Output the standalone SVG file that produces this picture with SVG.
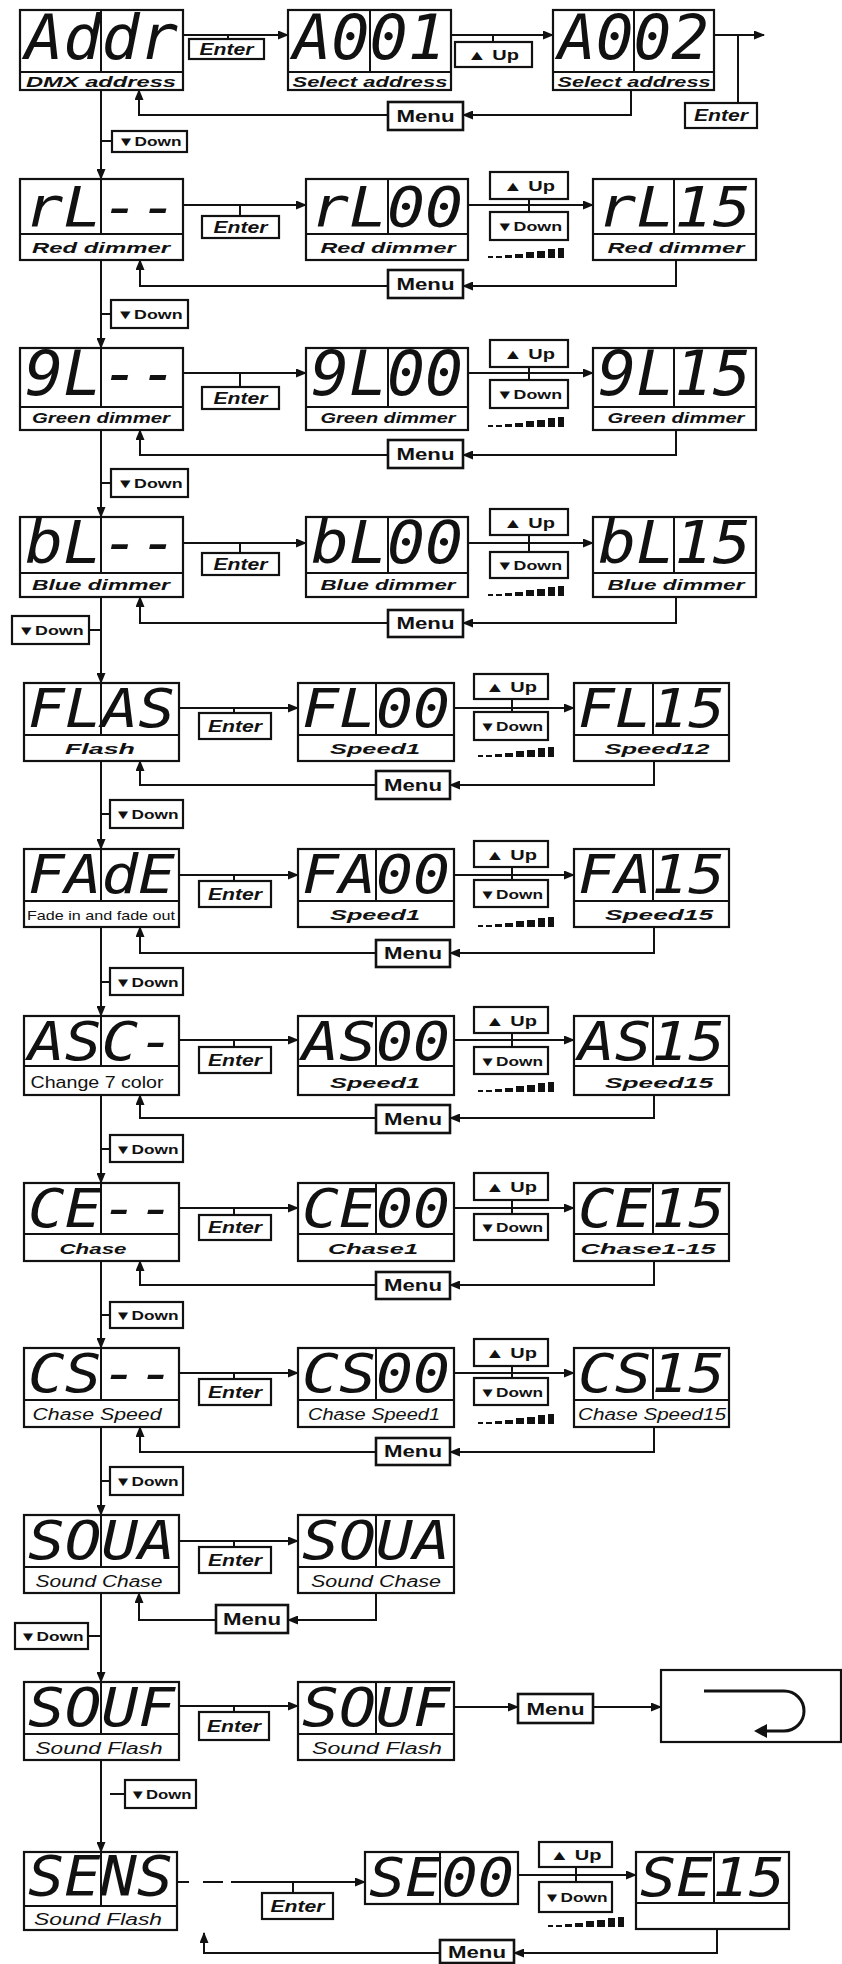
<svg xmlns="http://www.w3.org/2000/svg" width="842" height="1964" viewBox="0 0 842 1964">
<style>
.bg{fill:#fff}
.box{fill:#fff;stroke:#111;stroke-width:2.2}
.dv{stroke:#111;stroke-width:2}
.btn{fill:#fff;stroke:#111;stroke-width:2.2}
.mbtn{fill:#fff;stroke:#111;stroke-width:2.6}
.disp{font-family:"DejaVu Sans Mono","Liberation Mono",monospace;font-style:italic;fill:#111}
.lbl{font-family:"Liberation Sans",Arial,sans-serif;font-style:italic;font-weight:bold;fill:#111}
.lblu{font-family:"Liberation Sans Narrow","Liberation Sans",Arial,sans-serif;fill:#111}
.bt{font-family:"Liberation Sans",Arial,sans-serif;font-weight:bold;fill:#111;text-anchor:middle}
.ent{font-style:italic;font-size:16px}
.mn{font-size:17px}
.up{font-size:14px}
.dn{font-size:13px}
.ln{stroke:#111;stroke-width:2;fill:none}
.ar{stroke:#111;stroke-width:2;fill:none;marker-end:url(#ah)}
</style>
<defs>
<marker id="ah" markerUnits="userSpaceOnUse" markerWidth="11" markerHeight="9" refX="10" refY="4.5" orient="auto"><path d="M0,0 L11,4.5 L0,9 Z" fill="#111"/></marker>
<g id="ramp" fill="#111">
<rect x="0" y="-2" width="5" height="2"/><rect x="8" y="-2" width="6" height="2"/><rect x="17" y="-3" width="7" height="3"/><rect x="27" y="-4" width="8" height="4"/><rect x="38" y="-6" width="8" height="6"/><rect x="49" y="-7" width="8" height="7"/><rect x="60" y="-9" width="7" height="9"/><rect x="70" y="-10" width="6" height="10"/>
</g>
</defs>
<rect class="bg" x="0" y="0" width="842" height="1964"/>

<g id="connectors">
<!-- row 1 -->
<line class="ar" x1="183" y1="35" x2="288" y2="35"/><line class="ln" x1="228" y1="35" x2="228" y2="39"/>
<line class="ar" x1="451" y1="35" x2="553" y2="35"/><line class="ln" x1="493" y1="35" x2="493" y2="42"/>
<line class="ar" x1="714" y1="35" x2="764" y2="35"/><line class="ln" x1="738" y1="35" x2="738" y2="103"/>
<polyline class="ar" points="631,90 631,115 463,115"/><polyline class="ar" points="388,115 139,115 139,90"/>
<line class="ar" x1="101" y1="90" x2="101" y2="179"/><line class="ln" x1="101" y1="141" x2="112" y2="141"/>
<!-- row 2 -->
<line class="ar" x1="183" y1="205" x2="306" y2="205"/><line class="ln" x1="240" y1="205" x2="240" y2="216"/>
<line class="ar" x1="468" y1="205" x2="593" y2="205"/><line class="ln" x1="529" y1="199" x2="529" y2="212"/>
<polyline class="ar" points="676,260 676,286 463,286"/><polyline class="ar" points="388,286 140,286 140,260"/>
<line class="ar" x1="101" y1="260" x2="101" y2="348"/><line class="ln" x1="101" y1="314" x2="111" y2="314"/>
<!-- row 3 -->
<line class="ar" x1="183" y1="373" x2="306" y2="373"/><line class="ln" x1="240" y1="373" x2="240" y2="387"/>
<line class="ar" x1="468" y1="373" x2="593" y2="373"/><line class="ln" x1="529" y1="367" x2="529" y2="380"/>
<polyline class="ar" points="676,430 676,455 463,455"/><polyline class="ar" points="388,455 140,455 140,430"/>
<line class="ar" x1="101" y1="430" x2="101" y2="517"/><line class="ln" x1="101" y1="483" x2="111" y2="483"/>
<!-- row 4 -->
<line class="ar" x1="183" y1="543" x2="306" y2="543"/><line class="ln" x1="240" y1="543" x2="240" y2="553"/>
<line class="ar" x1="468" y1="543" x2="593" y2="543"/><line class="ln" x1="529" y1="535" x2="529" y2="552"/>
<polyline class="ar" points="676,597 676,623 463,623"/><polyline class="ar" points="388,623 140,623 140,597"/>
<line class="ar" x1="101" y1="597" x2="101" y2="683"/><line class="ln" x1="89" y1="630" x2="101" y2="630"/>
<!-- row 5 -->
<line class="ar" x1="179" y1="708" x2="298" y2="708"/><line class="ln" x1="234" y1="708" x2="234" y2="713"/>
<line class="ar" x1="454" y1="708" x2="574" y2="708"/><line class="ln" x1="512" y1="699" x2="512" y2="712"/>
<polyline class="ar" points="654,761 654,785 450,785"/><polyline class="ar" points="376,785 140,785 140,761"/>
<line class="ar" x1="101" y1="761" x2="101" y2="849"/><line class="ln" x1="101" y1="814" x2="110" y2="814"/>
<!-- row 6 -->
<line class="ar" x1="179" y1="875" x2="298" y2="875"/><line class="ln" x1="234" y1="875" x2="234" y2="881"/>
<line class="ar" x1="454" y1="875" x2="574" y2="875"/><line class="ln" x1="512" y1="867" x2="512" y2="880"/>
<polyline class="ar" points="654,927 654,953 450,953"/><polyline class="ar" points="376,953 140,953 140,927"/>
<line class="ar" x1="101" y1="927" x2="101" y2="1016"/><line class="ln" x1="101" y1="982" x2="110" y2="982"/>
<!-- row 7 -->
<line class="ar" x1="179" y1="1040" x2="298" y2="1040"/><line class="ln" x1="234" y1="1040" x2="234" y2="1047"/>
<line class="ar" x1="454" y1="1040" x2="574" y2="1040"/><line class="ln" x1="512" y1="1033" x2="512" y2="1047"/>
<polyline class="ar" points="654,1095 654,1118 450,1118"/><polyline class="ar" points="376,1118 140,1118 140,1095"/>
<line class="ar" x1="101" y1="1095" x2="101" y2="1183"/><line class="ln" x1="101" y1="1149" x2="110" y2="1149"/>
<!-- row 8 -->
<line class="ar" x1="179" y1="1208" x2="298" y2="1208"/><line class="ln" x1="234" y1="1208" x2="234" y2="1215"/>
<line class="ar" x1="454" y1="1208" x2="574" y2="1208"/><line class="ln" x1="512" y1="1200" x2="512" y2="1214"/>
<polyline class="ar" points="654,1261 654,1285 450,1285"/><polyline class="ar" points="376,1285 140,1285 140,1261"/>
<line class="ar" x1="101" y1="1261" x2="101" y2="1348"/><line class="ln" x1="101" y1="1315" x2="110" y2="1315"/>
<!-- row 9 -->
<line class="ar" x1="179" y1="1373" x2="298" y2="1373"/><line class="ln" x1="234" y1="1373" x2="234" y2="1379"/>
<line class="ar" x1="454" y1="1373" x2="574" y2="1373"/><line class="ln" x1="512" y1="1366" x2="512" y2="1378"/>
<polyline class="ar" points="654,1427 654,1452 450,1452"/><polyline class="ar" points="376,1452 140,1452 140,1427"/>
<line class="ar" x1="101" y1="1427" x2="101" y2="1515"/><line class="ln" x1="101" y1="1481" x2="110" y2="1481"/>
<!-- row 10 -->
<line class="ar" x1="179" y1="1541" x2="298" y2="1541"/><line class="ln" x1="234" y1="1541" x2="234" y2="1547"/>
<polyline class="ar" points="376,1593 376,1620 288,1620"/><polyline class="ar" points="216,1620 139,1620 139,1593"/>
<line class="ar" x1="101" y1="1593" x2="101" y2="1682"/><line class="ln" x1="88" y1="1636" x2="101" y2="1636"/>
<!-- row 11 -->
<line class="ar" x1="179" y1="1706" x2="298" y2="1706"/><line class="ln" x1="234" y1="1706" x2="234" y2="1712"/>
<line class="ar" x1="454" y1="1707" x2="518" y2="1707"/>
<line class="ar" x1="593" y1="1707" x2="661" y2="1707"/>
<line class="ar" x1="101" y1="1760" x2="101" y2="1852"/><line class="ln" x1="110" y1="1794" x2="124" y2="1794"/>
<!-- row 12 -->
<line class="ln" x1="177" y1="1882" x2="189" y2="1882"/><line class="ln" x1="203" y1="1882" x2="223" y2="1882"/>
<line class="ar" x1="231" y1="1882" x2="365" y2="1882"/><line class="ln" x1="293" y1="1882" x2="293" y2="1893"/>
<line class="ar" x1="518" y1="1875" x2="636" y2="1875"/><line class="ln" x1="576" y1="1867" x2="576" y2="1882"/>
<polyline class="ar" points="717,1929 717,1953 514,1953"/><polyline class="ar" points="440,1953 204,1953 204,1933"/>
</g>

<!-- ROW 1 -->
<g id="n-addr"><rect class="box" x="20" y="10" width="163" height="80"/><line class="dv" x1="20" y1="72" x2="183" y2="72"/><line class="dv" x1="101" y1="10" x2="101" y2="72"/>
<text class="disp" x="25" y="59" font-size="62" textLength="153" lengthAdjust="spacingAndGlyphs">Addr</text>
<text class="lbl" x="101" y="87" font-size="14" text-anchor="middle" textLength="150" lengthAdjust="spacingAndGlyphs">DMX address</text></g>
<g id="n-a001"><rect class="box" x="288" y="10" width="163" height="80"/><line class="dv" x1="288" y1="72" x2="451" y2="72"/><line class="dv" x1="370" y1="10" x2="370" y2="72"/>
<text class="disp" x="293" y="59" font-size="62" textLength="153" lengthAdjust="spacingAndGlyphs">A001</text>
<text class="lbl" x="370" y="87" font-size="14" text-anchor="middle" textLength="155" lengthAdjust="spacingAndGlyphs">Select address</text></g>
<g id="n-a002"><rect class="box" x="553" y="10" width="161" height="80"/><line class="dv" x1="553" y1="72" x2="714" y2="72"/><line class="dv" x1="634" y1="10" x2="634" y2="72"/>
<text class="disp" x="558" y="59" font-size="62" textLength="151" lengthAdjust="spacingAndGlyphs">A002</text>
<text class="lbl" x="634" y="87" font-size="14" text-anchor="middle" textLength="153" lengthAdjust="spacingAndGlyphs">Select address</text></g>
<g id="b-enter1"><rect class="btn" x="189" y="39" width="75" height="20"/><text class="bt ent" x="226.5" y="55" textLength="54" lengthAdjust="spacingAndGlyphs">Enter</text></g>
<g id="b-up1"><rect class="btn" x="455" y="42" width="77" height="25"/><text class="bt up" x="493" y="60" textLength="52" lengthAdjust="spacingAndGlyphs">▲ Up</text></g>
<g id="b-menu1"><rect class="mbtn" x="388" y="102" width="75" height="28"/><text class="bt mn" x="425.5" y="122" textLength="58" lengthAdjust="spacingAndGlyphs">Menu</text></g>
<g id="b-enter1b"><rect class="btn" x="685" y="103" width="72" height="25"/><text class="bt ent" x="721" y="121" textLength="54" lengthAdjust="spacingAndGlyphs">Enter</text></g>
<g id="b-down1"><rect class="btn" x="112" y="131" width="75" height="21"/><text class="bt dn" x="149.5" y="146" textLength="64" lengthAdjust="spacingAndGlyphs">▼Down</text></g>

<!-- ROW 2 -->
<g id="n-rl"><rect class="box" x="20" y="179" width="163" height="81"/><line class="dv" x1="20" y1="234" x2="183" y2="234"/><line class="dv" x1="101" y1="179" x2="101" y2="234"/>
<text class="disp" x="25" y="226" font-size="56" textLength="153" lengthAdjust="spacingAndGlyphs">rL--</text>
<text class="lbl" x="101" y="253" font-size="14" text-anchor="middle" textLength="138" lengthAdjust="spacingAndGlyphs">Red dimmer</text></g>
<g id="n-rl00"><rect class="box" x="306" y="179" width="162" height="81"/><line class="dv" x1="306" y1="234" x2="468" y2="234"/><line class="dv" x1="388" y1="179" x2="388" y2="234"/>
<text class="disp" x="311" y="226" font-size="56" textLength="152" lengthAdjust="spacingAndGlyphs">rL00</text>
<text class="lbl" x="388" y="253" font-size="14" text-anchor="middle" textLength="135" lengthAdjust="spacingAndGlyphs">Red dimmer</text></g>
<g id="n-rl15"><rect class="box" x="593" y="179" width="163" height="81"/><line class="dv" x1="593" y1="234" x2="756" y2="234"/><line class="dv" x1="674" y1="179" x2="674" y2="234"/>
<text class="disp" x="598" y="226" font-size="56" textLength="153" lengthAdjust="spacingAndGlyphs">rL15</text>
<text class="lbl" x="676" y="253" font-size="14" text-anchor="middle" textLength="137" lengthAdjust="spacingAndGlyphs">Red dimmer</text></g>
<g id="b-enter2"><rect class="btn" x="202" y="216" width="77" height="22"/><text class="bt ent" x="240.5" y="233" textLength="54" lengthAdjust="spacingAndGlyphs">Enter</text></g>
<g id="b-up2"><rect class="btn" x="490" y="172" width="78" height="27"/><text class="bt up" x="529" y="191" textLength="52" lengthAdjust="spacingAndGlyphs">▲ Up</text></g>
<g id="b-down2"><rect class="btn" x="490" y="212" width="78" height="28"/><text class="bt dn" x="529" y="231" textLength="66" lengthAdjust="spacingAndGlyphs">▼Down</text></g>
<use href="#ramp" x="488" y="258"/>
<g id="b-menu2"><rect class="mbtn" x="388" y="270" width="75" height="28"/><text class="bt mn" x="425.5" y="290" textLength="58" lengthAdjust="spacingAndGlyphs">Menu</text></g>
<g id="b-down2b"><rect class="btn" x="111" y="300" width="77" height="28"/><text class="bt dn" x="149.5" y="319" textLength="66" lengthAdjust="spacingAndGlyphs">▼Down</text></g>

<!-- ROW 3 -->
<g id="n-gl"><rect class="box" x="20" y="348" width="163" height="82"/><line class="dv" x1="20" y1="407" x2="183" y2="407"/><line class="dv" x1="101" y1="348" x2="101" y2="407"/>
<text class="disp" x="25" y="395" font-size="62" textLength="153" lengthAdjust="spacingAndGlyphs">9L--</text>
<text class="lbl" x="101" y="423" font-size="14" text-anchor="middle" textLength="138" lengthAdjust="spacingAndGlyphs">Green dimmer</text></g>
<g id="n-gl00"><rect class="box" x="306" y="348" width="162" height="82"/><line class="dv" x1="306" y1="407" x2="468" y2="407"/><line class="dv" x1="388" y1="348" x2="388" y2="407"/>
<text class="disp" x="311" y="395" font-size="62" textLength="152" lengthAdjust="spacingAndGlyphs">9L00</text>
<text class="lbl" x="388" y="423" font-size="14" text-anchor="middle" textLength="135" lengthAdjust="spacingAndGlyphs">Green dimmer</text></g>
<g id="n-gl15"><rect class="box" x="593" y="348" width="163" height="82"/><line class="dv" x1="593" y1="407" x2="756" y2="407"/><line class="dv" x1="674" y1="348" x2="674" y2="407"/>
<text class="disp" x="598" y="395" font-size="62" textLength="153" lengthAdjust="spacingAndGlyphs">9L15</text>
<text class="lbl" x="676" y="423" font-size="14" text-anchor="middle" textLength="137" lengthAdjust="spacingAndGlyphs">Green dimmer</text></g>
<g id="b-enter3"><rect class="btn" x="202" y="387" width="77" height="22"/><text class="bt ent" x="240.5" y="404" textLength="54" lengthAdjust="spacingAndGlyphs">Enter</text></g>
<g id="b-up3"><rect class="btn" x="490" y="340" width="78" height="27"/><text class="bt up" x="529" y="359" textLength="52" lengthAdjust="spacingAndGlyphs">▲ Up</text></g>
<g id="b-down3"><rect class="btn" x="490" y="380" width="78" height="28"/><text class="bt dn" x="529" y="399" textLength="66" lengthAdjust="spacingAndGlyphs">▼Down</text></g>
<use href="#ramp" x="488" y="427"/>
<g id="b-menu3"><rect class="mbtn" x="388" y="440" width="75" height="28"/><text class="bt mn" x="425.5" y="460" textLength="58" lengthAdjust="spacingAndGlyphs">Menu</text></g>
<g id="b-down3b"><rect class="btn" x="111" y="469" width="77" height="28"/><text class="bt dn" x="149.5" y="488" textLength="66" lengthAdjust="spacingAndGlyphs">▼Down</text></g>

<!-- ROW 4 -->
<g id="n-bl"><rect class="box" x="20" y="517" width="163" height="80"/><line class="dv" x1="20" y1="573" x2="183" y2="573"/><line class="dv" x1="101" y1="517" x2="101" y2="573"/>
<text class="disp" x="25" y="563" font-size="58" textLength="153" lengthAdjust="spacingAndGlyphs">bL--</text>
<text class="lbl" x="101" y="590" font-size="14" text-anchor="middle" textLength="138" lengthAdjust="spacingAndGlyphs">Blue dimmer</text></g>
<g id="n-bl00"><rect class="box" x="306" y="517" width="162" height="80"/><line class="dv" x1="306" y1="573" x2="468" y2="573"/><line class="dv" x1="388" y1="517" x2="388" y2="573"/>
<text class="disp" x="311" y="563" font-size="58" textLength="152" lengthAdjust="spacingAndGlyphs">bL00</text>
<text class="lbl" x="388" y="590" font-size="14" text-anchor="middle" textLength="135" lengthAdjust="spacingAndGlyphs">Blue dimmer</text></g>
<g id="n-bl15"><rect class="box" x="593" y="517" width="163" height="80"/><line class="dv" x1="593" y1="573" x2="756" y2="573"/><line class="dv" x1="674" y1="517" x2="674" y2="573"/>
<text class="disp" x="598" y="563" font-size="58" textLength="153" lengthAdjust="spacingAndGlyphs">bL15</text>
<text class="lbl" x="676" y="590" font-size="14" text-anchor="middle" textLength="137" lengthAdjust="spacingAndGlyphs">Blue dimmer</text></g>
<g id="b-enter4"><rect class="btn" x="202" y="553" width="77" height="22"/><text class="bt ent" x="240.5" y="570" textLength="54" lengthAdjust="spacingAndGlyphs">Enter</text></g>
<g id="b-up4"><rect class="btn" x="490" y="509" width="78" height="26"/><text class="bt up" x="529" y="528" textLength="52" lengthAdjust="spacingAndGlyphs">▲ Up</text></g>
<g id="b-down4"><rect class="btn" x="490" y="552" width="78" height="26"/><text class="bt dn" x="529" y="570" textLength="66" lengthAdjust="spacingAndGlyphs">▼Down</text></g>
<use href="#ramp" x="488" y="596"/>
<g id="b-menu4"><rect class="mbtn" x="388" y="610" width="75" height="27"/><text class="bt mn" x="425.5" y="629" textLength="58" lengthAdjust="spacingAndGlyphs">Menu</text></g>
<g id="b-down4b"><rect class="btn" x="12" y="616" width="77" height="28"/><text class="bt dn" x="50.5" y="635" textLength="66" lengthAdjust="spacingAndGlyphs">▼Down</text></g>

<!-- ROW 5 -->
<g id="n-flas"><rect class="box" x="24" y="683" width="155" height="78"/><line class="dv" x1="24" y1="735" x2="179" y2="735"/><line class="dv" x1="101" y1="683" x2="101" y2="735"/>
<text class="disp" x="28" y="727" font-size="54" textLength="147" lengthAdjust="spacingAndGlyphs">FLAS</text>
<text class="lbl" x="100" y="754" font-size="15" text-anchor="middle" textLength="70" lengthAdjust="spacingAndGlyphs">Flash</text></g>
<g id="n-fl00"><rect class="box" x="298" y="683" width="156" height="78"/><line class="dv" x1="298" y1="735" x2="454" y2="735"/><line class="dv" x1="376" y1="683" x2="376" y2="735"/>
<text class="disp" x="302" y="727" font-size="54" textLength="148" lengthAdjust="spacingAndGlyphs">FL00</text>
<text class="lbl" x="375" y="754" font-size="15" text-anchor="middle" textLength="90" lengthAdjust="spacingAndGlyphs">Speed1</text></g>
<g id="n-fl15"><rect class="box" x="574" y="683" width="155" height="78"/><line class="dv" x1="574" y1="735" x2="729" y2="735"/><line class="dv" x1="653" y1="683" x2="653" y2="735"/>
<text class="disp" x="578" y="727" font-size="54" textLength="147" lengthAdjust="spacingAndGlyphs">FL15</text>
<text class="lbl" x="657" y="754" font-size="15" text-anchor="middle" textLength="105" lengthAdjust="spacingAndGlyphs">Speed12</text></g>
<g id="b-enter5"><rect class="btn" x="199" y="713" width="72" height="26"/><text class="bt ent" x="235" y="732" textLength="54" lengthAdjust="spacingAndGlyphs">Enter</text></g>
<g id="b-up5"><rect class="btn" x="474" y="674" width="74" height="25"/><text class="bt up" x="511" y="692" textLength="52" lengthAdjust="spacingAndGlyphs">▲ Up</text></g>
<g id="b-down5"><rect class="btn" x="474" y="712" width="74" height="28"/><text class="bt dn" x="511" y="731" textLength="64" lengthAdjust="spacingAndGlyphs">▼Down</text></g>
<use href="#ramp" x="478" y="757"/>
<g id="b-menu5"><rect class="mbtn" x="376" y="771" width="74" height="28"/><text class="bt mn" x="413" y="791" textLength="58" lengthAdjust="spacingAndGlyphs">Menu</text></g>
<g id="b-down5b"><rect class="btn" x="110" y="800" width="73" height="28"/><text class="bt dn" x="146.5" y="819" textLength="64" lengthAdjust="spacingAndGlyphs">▼Down</text></g>

<!-- ROW 6 -->
<g id="n-fade"><rect class="box" x="24" y="849" width="155" height="78"/><line class="dv" x1="24" y1="901" x2="179" y2="901"/><line class="dv" x1="101" y1="849" x2="101" y2="901"/>
<text class="disp" x="28" y="893" font-size="54" textLength="147" lengthAdjust="spacingAndGlyphs">FAdE</text>
<text class="lblu" x="101" y="920" font-size="13" text-anchor="middle" textLength="148" lengthAdjust="spacingAndGlyphs">Fade in and fade out</text></g>
<g id="n-fa00"><rect class="box" x="298" y="849" width="156" height="78"/><line class="dv" x1="298" y1="901" x2="454" y2="901"/><line class="dv" x1="376" y1="849" x2="376" y2="901"/>
<text class="disp" x="302" y="893" font-size="54" textLength="148" lengthAdjust="spacingAndGlyphs">FA00</text>
<text class="lbl" x="375" y="920" font-size="15" text-anchor="middle" textLength="90" lengthAdjust="spacingAndGlyphs">Speed1</text></g>
<g id="n-fa15"><rect class="box" x="574" y="849" width="155" height="78"/><line class="dv" x1="574" y1="901" x2="729" y2="901"/><line class="dv" x1="653" y1="849" x2="653" y2="901"/>
<text class="disp" x="578" y="893" font-size="54" textLength="147" lengthAdjust="spacingAndGlyphs">FA15</text>
<text class="lbl" x="659" y="920" font-size="15" text-anchor="middle" textLength="108" lengthAdjust="spacingAndGlyphs">Speed15</text></g>
<g id="b-enter6"><rect class="btn" x="199" y="881" width="72" height="26"/><text class="bt ent" x="235" y="900" textLength="54" lengthAdjust="spacingAndGlyphs">Enter</text></g>
<g id="b-up6"><rect class="btn" x="474" y="841" width="74" height="26"/><text class="bt up" x="511" y="860" textLength="52" lengthAdjust="spacingAndGlyphs">▲ Up</text></g>
<g id="b-down6"><rect class="btn" x="474" y="880" width="74" height="27"/><text class="bt dn" x="511" y="899" textLength="64" lengthAdjust="spacingAndGlyphs">▼Down</text></g>
<use href="#ramp" x="478" y="927"/>
<g id="b-menu6"><rect class="mbtn" x="376" y="940" width="74" height="27"/><text class="bt mn" x="413" y="959" textLength="58" lengthAdjust="spacingAndGlyphs">Menu</text></g>
<g id="b-down6b"><rect class="btn" x="110" y="968" width="73" height="27"/><text class="bt dn" x="146.5" y="987" textLength="64" lengthAdjust="spacingAndGlyphs">▼Down</text></g>

<!-- ROW 7 -->
<g id="n-asc"><rect class="box" x="24" y="1016" width="155" height="79"/><line class="dv" x1="24" y1="1066" x2="179" y2="1066"/><line class="dv" x1="101" y1="1016" x2="101" y2="1066"/>
<text class="disp" x="28" y="1060" font-size="54" textLength="147" lengthAdjust="spacingAndGlyphs">ASC-</text>
<text class="lblu" x="97" y="1088" font-size="16" text-anchor="middle" textLength="133" lengthAdjust="spacingAndGlyphs">Change 7 color</text></g>
<g id="n-as00"><rect class="box" x="298" y="1016" width="156" height="79"/><line class="dv" x1="298" y1="1066" x2="454" y2="1066"/><line class="dv" x1="376" y1="1016" x2="376" y2="1066"/>
<text class="disp" x="302" y="1060" font-size="54" textLength="148" lengthAdjust="spacingAndGlyphs">AS00</text>
<text class="lbl" x="375" y="1088" font-size="15" text-anchor="middle" textLength="90" lengthAdjust="spacingAndGlyphs">Speed1</text></g>
<g id="n-as15"><rect class="box" x="574" y="1016" width="155" height="79"/><line class="dv" x1="574" y1="1066" x2="729" y2="1066"/><line class="dv" x1="653" y1="1016" x2="653" y2="1066"/>
<text class="disp" x="578" y="1060" font-size="54" textLength="147" lengthAdjust="spacingAndGlyphs">AS15</text>
<text class="lbl" x="659" y="1088" font-size="15" text-anchor="middle" textLength="108" lengthAdjust="spacingAndGlyphs">Speed15</text></g>
<g id="b-enter7"><rect class="btn" x="199" y="1047" width="72" height="26"/><text class="bt ent" x="235" y="1066" textLength="54" lengthAdjust="spacingAndGlyphs">Enter</text></g>
<g id="b-up7"><rect class="btn" x="474" y="1007" width="74" height="26"/><text class="bt up" x="511" y="1026" textLength="52" lengthAdjust="spacingAndGlyphs">▲ Up</text></g>
<g id="b-down7"><rect class="btn" x="474" y="1047" width="74" height="27"/><text class="bt dn" x="511" y="1066" textLength="64" lengthAdjust="spacingAndGlyphs">▼Down</text></g>
<use href="#ramp" x="478" y="1092"/>
<g id="b-menu7"><rect class="mbtn" x="376" y="1105" width="74" height="28"/><text class="bt mn" x="413" y="1125" textLength="58" lengthAdjust="spacingAndGlyphs">Menu</text></g>
<g id="b-down7b"><rect class="btn" x="110" y="1135" width="73" height="27"/><text class="bt dn" x="146.5" y="1154" textLength="64" lengthAdjust="spacingAndGlyphs">▼Down</text></g>

<!-- ROW 8 -->
<g id="n-ce"><rect class="box" x="24" y="1183" width="155" height="78"/><line class="dv" x1="24" y1="1234" x2="179" y2="1234"/><line class="dv" x1="101" y1="1183" x2="101" y2="1234"/>
<text class="disp" x="28" y="1227" font-size="54" textLength="147" lengthAdjust="spacingAndGlyphs">CE--</text>
<text class="lbl" x="93" y="1254" font-size="15" text-anchor="middle" textLength="67" lengthAdjust="spacingAndGlyphs">Chase</text></g>
<g id="n-ce00"><rect class="box" x="298" y="1183" width="156" height="78"/><line class="dv" x1="298" y1="1234" x2="454" y2="1234"/><line class="dv" x1="376" y1="1183" x2="376" y2="1234"/>
<text class="disp" x="302" y="1227" font-size="54" textLength="148" lengthAdjust="spacingAndGlyphs">CE00</text>
<text class="lbl" x="373" y="1254" font-size="15" text-anchor="middle" textLength="90" lengthAdjust="spacingAndGlyphs">Chase1</text></g>
<g id="n-ce15"><rect class="box" x="574" y="1183" width="155" height="78"/><line class="dv" x1="574" y1="1234" x2="729" y2="1234"/><line class="dv" x1="653" y1="1183" x2="653" y2="1234"/>
<text class="disp" x="578" y="1227" font-size="54" textLength="147" lengthAdjust="spacingAndGlyphs">CE15</text>
<text class="lbl" x="648" y="1254" font-size="15" text-anchor="middle" textLength="135" lengthAdjust="spacingAndGlyphs">Chase1-15</text></g>
<g id="b-enter8"><rect class="btn" x="199" y="1215" width="72" height="25"/><text class="bt ent" x="235" y="1233" textLength="54" lengthAdjust="spacingAndGlyphs">Enter</text></g>
<g id="b-up8"><rect class="btn" x="474" y="1173" width="74" height="27"/><text class="bt up" x="511" y="1192" textLength="52" lengthAdjust="spacingAndGlyphs">▲ Up</text></g>
<g id="b-down8"><rect class="btn" x="474" y="1214" width="74" height="26"/><text class="bt dn" x="511" y="1232" textLength="64" lengthAdjust="spacingAndGlyphs">▼Down</text></g>
<g id="b-menu8"><rect class="mbtn" x="376" y="1272" width="74" height="27"/><text class="bt mn" x="413" y="1291" textLength="58" lengthAdjust="spacingAndGlyphs">Menu</text></g>
<g id="b-down8b"><rect class="btn" x="110" y="1302" width="73" height="26"/><text class="bt dn" x="146.5" y="1320" textLength="64" lengthAdjust="spacingAndGlyphs">▼Down</text></g>

<!-- ROW 9 -->
<g id="n-cs"><rect class="box" x="24" y="1348" width="155" height="79"/><line class="dv" x1="24" y1="1400" x2="179" y2="1400"/><line class="dv" x1="101" y1="1348" x2="101" y2="1400"/>
<text class="disp" x="28" y="1392" font-size="54" textLength="147" lengthAdjust="spacingAndGlyphs">CS--</text>
<text class="lblu" x="97" y="1420" font-size="16" font-style="italic" text-anchor="middle" textLength="129" lengthAdjust="spacingAndGlyphs">Chase Speed</text></g>
<g id="n-cs00"><rect class="box" x="298" y="1348" width="156" height="79"/><line class="dv" x1="298" y1="1400" x2="454" y2="1400"/><line class="dv" x1="376" y1="1348" x2="376" y2="1400"/>
<text class="disp" x="302" y="1392" font-size="54" textLength="148" lengthAdjust="spacingAndGlyphs">CS00</text>
<text class="lblu" x="374" y="1420" font-size="16" font-style="italic" text-anchor="middle" textLength="132" lengthAdjust="spacingAndGlyphs">Chase Speed1</text></g>
<g id="n-cs15"><rect class="box" x="574" y="1348" width="155" height="79"/><line class="dv" x1="574" y1="1400" x2="729" y2="1400"/><line class="dv" x1="653" y1="1348" x2="653" y2="1400"/>
<text class="disp" x="578" y="1392" font-size="54" textLength="147" lengthAdjust="spacingAndGlyphs">CS15</text>
<text class="lblu" x="652" y="1420" font-size="16" font-style="italic" text-anchor="middle" textLength="148" lengthAdjust="spacingAndGlyphs">Chase Speed15</text></g>
<g id="b-enter9"><rect class="btn" x="199" y="1379" width="72" height="26"/><text class="bt ent" x="235" y="1398" textLength="54" lengthAdjust="spacingAndGlyphs">Enter</text></g>
<g id="b-up9"><rect class="btn" x="474" y="1339" width="74" height="27"/><text class="bt up" x="511" y="1358" textLength="52" lengthAdjust="spacingAndGlyphs">▲ Up</text></g>
<g id="b-down9"><rect class="btn" x="474" y="1378" width="74" height="27"/><text class="bt dn" x="511" y="1397" textLength="64" lengthAdjust="spacingAndGlyphs">▼Down</text></g>
<use href="#ramp" x="478" y="1424"/>
<g id="b-menu9"><rect class="mbtn" x="376" y="1438" width="74" height="27"/><text class="bt mn" x="413" y="1457" textLength="58" lengthAdjust="spacingAndGlyphs">Menu</text></g>
<g id="b-down9b"><rect class="btn" x="110" y="1467" width="73" height="28"/><text class="bt dn" x="146.5" y="1486" textLength="64" lengthAdjust="spacingAndGlyphs">▼Down</text></g>

<!-- ROW 10 -->
<g id="n-soua"><rect class="box" x="24" y="1515" width="155" height="78"/><line class="dv" x1="24" y1="1567" x2="179" y2="1567"/><line class="dv" x1="101" y1="1515" x2="101" y2="1567"/>
<text class="disp" x="28" y="1559" font-size="54" textLength="147" lengthAdjust="spacingAndGlyphs">SOUA</text>
<text class="lblu" x="99" y="1587" font-size="16" font-style="italic" text-anchor="middle" textLength="127" lengthAdjust="spacingAndGlyphs">Sound Chase</text></g>
<g id="n-soua2"><rect class="box" x="298" y="1515" width="156" height="78"/><line class="dv" x1="298" y1="1567" x2="454" y2="1567"/><line class="dv" x1="376" y1="1515" x2="376" y2="1567"/>
<text class="disp" x="302" y="1559" font-size="54" textLength="148" lengthAdjust="spacingAndGlyphs">SOUA</text>
<text class="lblu" x="376" y="1587" font-size="16" font-style="italic" text-anchor="middle" textLength="130" lengthAdjust="spacingAndGlyphs">Sound Chase</text></g>
<g id="b-enter10"><rect class="btn" x="199" y="1547" width="72" height="26"/><text class="bt ent" x="235" y="1566" textLength="54" lengthAdjust="spacingAndGlyphs">Enter</text></g>
<g id="b-menu10"><rect class="mbtn" x="216" y="1605" width="72" height="28"/><text class="bt mn" x="252" y="1625" textLength="58" lengthAdjust="spacingAndGlyphs">Menu</text></g>
<g id="b-down10"><rect class="btn" x="15" y="1623" width="73" height="26"/><text class="bt dn" x="51.5" y="1641" textLength="64" lengthAdjust="spacingAndGlyphs">▼Down</text></g>

<!-- ROW 11 -->
<g id="n-souf"><rect class="box" x="24" y="1682" width="155" height="78"/><line class="dv" x1="24" y1="1734" x2="179" y2="1734"/><line class="dv" x1="101" y1="1682" x2="101" y2="1734"/>
<text class="disp" x="28" y="1726" font-size="54" textLength="147" lengthAdjust="spacingAndGlyphs">SOUF</text>
<text class="lblu" x="99" y="1754" font-size="16" font-style="italic" text-anchor="middle" textLength="127" lengthAdjust="spacingAndGlyphs">Sound Flash</text></g>
<g id="n-souf2"><rect class="box" x="298" y="1682" width="156" height="78"/><line class="dv" x1="298" y1="1734" x2="454" y2="1734"/><line class="dv" x1="376" y1="1682" x2="376" y2="1734"/>
<text class="disp" x="302" y="1726" font-size="54" textLength="148" lengthAdjust="spacingAndGlyphs">SOUF</text>
<text class="lblu" x="377" y="1754" font-size="16" font-style="italic" text-anchor="middle" textLength="130" lengthAdjust="spacingAndGlyphs">Sound Flash</text></g>
<g id="b-enter11"><rect class="btn" x="199" y="1712" width="70" height="28"/><text class="bt ent" x="234" y="1732" textLength="54" lengthAdjust="spacingAndGlyphs">Enter</text></g>
<g id="b-menu11"><rect class="mbtn" x="518" y="1694" width="75" height="29"/><text class="bt mn" x="555.5" y="1715" textLength="58" lengthAdjust="spacingAndGlyphs">Menu</text></g>
<g id="n-return"><rect class="box" x="661" y="1670" width="180" height="72"/>
<path d="M704,1691 L784,1691 A20,20 0 0 1 784,1731 L766,1731" fill="none" stroke="#111" stroke-width="3"/>
<path d="M754,1731 L767,1724 L767,1738 Z" fill="#111"/></g>
<g id="b-down11"><rect class="btn" x="125" y="1780" width="71" height="28"/><text class="bt dn" x="160.5" y="1799" textLength="62" lengthAdjust="spacingAndGlyphs">▼Down</text></g>

<!-- ROW 12 -->
<g id="n-sens"><rect class="box" x="24" y="1852" width="153" height="78"/><line class="dv" x1="24" y1="1906" x2="177" y2="1906"/><line class="dv" x1="101" y1="1852" x2="101" y2="1906"/>
<text class="disp" x="28" y="1895" font-size="56" textLength="145" lengthAdjust="spacingAndGlyphs">SENS</text>
<text class="lblu" x="98" y="1925" font-size="16" font-style="italic" text-anchor="middle" textLength="128" lengthAdjust="spacingAndGlyphs">Sound Flash</text></g>
<g id="n-se00"><rect class="box" x="365" y="1852" width="153" height="52"/><line class="dv" x1="440" y1="1852" x2="440" y2="1904"/>
<text class="disp" x="369" y="1896" font-size="54" textLength="145" lengthAdjust="spacingAndGlyphs">SE00</text></g>
<g id="n-se15"><rect class="box" x="636" y="1852" width="153" height="77"/><line class="dv" x1="636" y1="1903" x2="789" y2="1903"/><line class="dv" x1="714" y1="1852" x2="714" y2="1903"/>
<text class="disp" x="640" y="1896" font-size="54" textLength="145" lengthAdjust="spacingAndGlyphs">SE15</text></g>
<g id="b-enter12"><rect class="btn" x="262" y="1893" width="71" height="26"/><text class="bt ent" x="297.5" y="1912" textLength="54" lengthAdjust="spacingAndGlyphs">Enter</text></g>
<g id="b-up12"><rect class="btn" x="539" y="1842" width="73" height="25"/><text class="bt up" x="575.5" y="1860" textLength="52" lengthAdjust="spacingAndGlyphs">▲ Up</text></g>
<g id="b-down12"><rect class="btn" x="539" y="1882" width="73" height="30"/><text class="bt dn" x="575.5" y="1902" textLength="64" lengthAdjust="spacingAndGlyphs">▼Down</text></g>
<use href="#ramp" x="548" y="1927"/>
<g id="b-menu12"><rect class="mbtn" x="440" y="1940" width="74" height="23"/><text class="bt mn" x="477" y="1958" textLength="58" lengthAdjust="spacingAndGlyphs">Menu</text></g>
</svg>
